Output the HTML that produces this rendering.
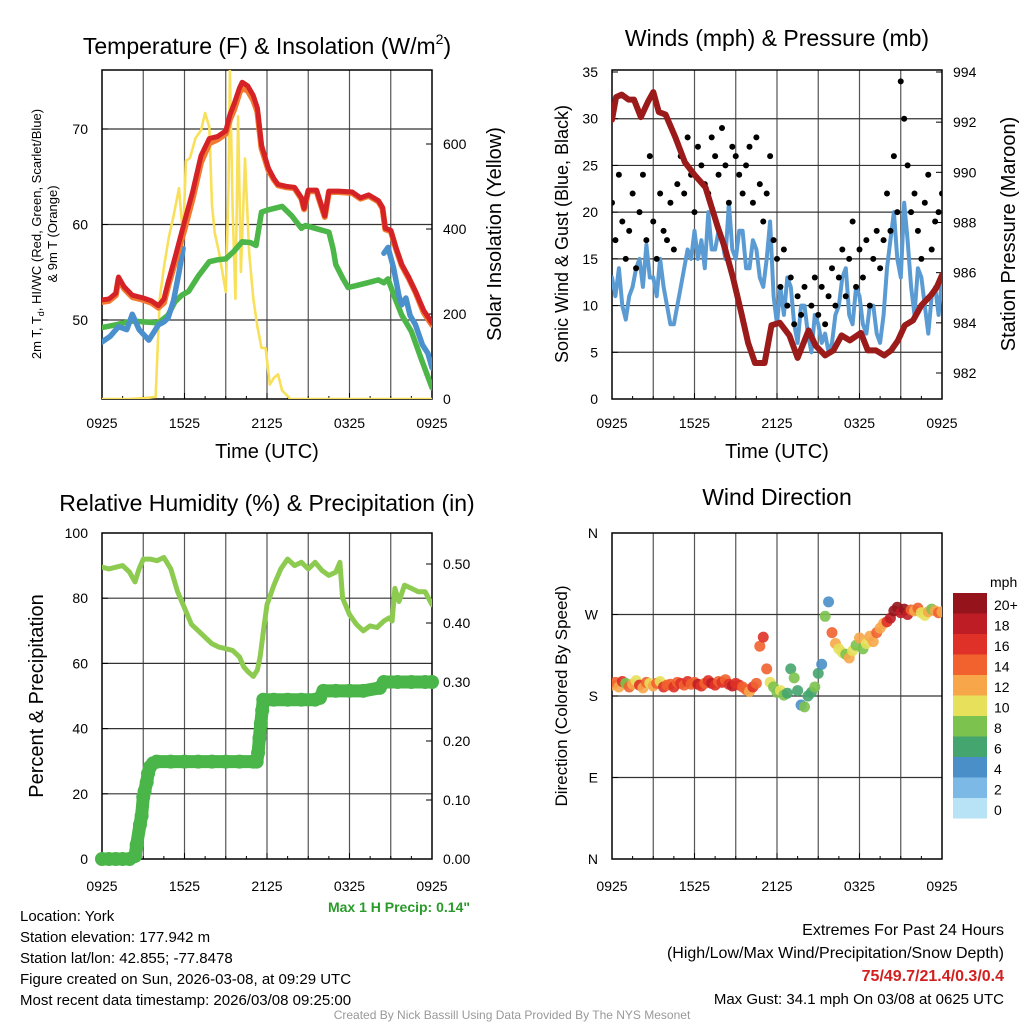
<!DOCTYPE html>
<html><head><meta charset="utf-8">
<style>
html,body{margin:0;padding:0;background:#fff;}
svg{display:block;font-family:"Liberation Sans",Arial,sans-serif;}
</style></head>
<body>
<svg id="fig" width="1024" height="1024" viewBox="0 0 1024 1024" xmlns="http://www.w3.org/2000/svg">
<rect x="0" y="0" width="1024" height="1024" fill="#fff"/>
<text x="267" y="54" font-size="23" text-anchor="middle">Temperature (F) &amp; Insolation (W/m<tspan font-size="14" dy="-10">2</tspan><tspan dy="10">)</tspan></text>
<text x="777" y="46" font-size="23" text-anchor="middle">Winds (mph) &amp; Pressure (mb)</text>
<text x="267" y="511" font-size="23" text-anchor="middle">Relative Humidity (%) &amp; Precipitation (in)</text>
<text x="777" y="505" font-size="23" text-anchor="middle">Wind Direction</text>

<text transform="translate(41,234) rotate(-90)" font-size="13" text-anchor="middle">2m T, T<tspan font-size="9" dy="3">d</tspan><tspan dy="-3">, HI/WC (Red, Green, Scarlet/Blue)</tspan></text>
<text transform="translate(57,234) rotate(-90)" font-size="13" text-anchor="middle">&amp; 9m T (Orange)</text>
<text transform="translate(501,234) rotate(-90)" font-size="20" text-anchor="middle">Solar Insolation (Yellow)</text>
<text x="267" y="458" font-size="20" text-anchor="middle">Time (UTC)</text>
<text transform="translate(568,234) rotate(-90)" font-size="18" text-anchor="middle">Sonic Wind &amp; Gust (Blue, Black)</text>
<text transform="translate(1015,234) rotate(-90)" font-size="20" text-anchor="middle">Station Pressure (Maroon)</text>
<text x="777" y="458" font-size="20" text-anchor="middle">Time (UTC)</text>
<text transform="translate(43,696) rotate(-90)" font-size="20" text-anchor="middle">Percent &amp; Precipitation</text>
<text transform="translate(567,696) rotate(-90)" font-size="17" text-anchor="middle">Direction (Colored By Speed)</text>
<text x="470" y="912" font-size="14" font-weight="bold" fill="#2a9a2a" text-anchor="end">Max 1 H Precip: 0.14"</text>

<g font-size="15">
<text x="20" y="921">Location: York</text>
<text x="20" y="942">Station elevation: 177.942 m</text>
<text x="20" y="963">Station lat/lon: 42.855; -77.8478</text>
<text x="20" y="984">Figure created on Sun, 2026-03-08, at 09:29 UTC</text>
<text x="20" y="1005">Most recent data timestamp: 2026/03/08 09:25:00</text>
</g>
<g font-size="16" text-anchor="end">
<text x="1004" y="935">Extremes For Past 24 Hours</text>
<text x="1004" y="958">(High/Low/Max Wind/Precipitation/Snow Depth)</text>
<text x="1004" y="981" font-weight="bold" fill="#d22020">75/49.7/21.4/0.3/0.4</text>
<text x="1004" y="1004" font-size="15">Max Gust: 34.1 mph On 03/08 at 0625 UTC</text>
</g>
<text x="512" y="1019" font-size="12" fill="#999" text-anchor="middle">Created By Nick Bassill Using Data Provided By The NYS Mesonet</text>
<g id="layer"></g>
</svg>
<script>
// ---- Temperature panel data ----
const redHours=[0,0.5,1,1.2,1.6,2.2,3,3.6,4.1,4.5,4.8,5.3,6,6.6,7.2,7.8,8.4,9,9.3,9.6,10,10.2,10.6,11,11.3,11.6,12.1,12.5,12.8,13.4,14,14.5,14.7,15,15.6,16.2,16.5,17.2,18.2,18.8,19.4,20.1,20.4,20.6,21,21.4,21.8,22.3,22.8,23.4,24];
const redTemps=[52.1,52.2,52.8,54.5,53.5,52.6,52.3,52.0,51.5,52.2,53.9,56.5,60.3,63.5,67.2,69.0,69.2,69.8,71.5,72.6,74.3,74.9,74.5,73.5,72.2,68.3,65.9,64.8,64.2,64.0,63.9,62.8,61.7,63.6,63.6,60.9,63.5,63.5,63.4,62.8,63.1,62.5,61.8,59.6,59.4,57.5,55.8,54.5,53.0,51.0,49.7];
const orangeTemps=[51.9,52.0,52.6,54.3,53.3,52.4,52.1,51.8,51.3,51.8,53.5,56.0,59.5,62.8,66.5,68.5,68.9,69.5,71.0,72.0,73.8,74.3,74.0,73.0,71.8,68.0,65.7,64.7,64.1,63.9,63.8,62.7,61.6,63.5,63.5,60.8,63.4,63.4,63.3,62.7,63.0,62.4,61.7,59.5,59.3,57.4,55.7,54.4,52.9,50.8,49.5];
const greenHours=[0,1,2.2,3,4.1,4.8,5.3,5.8,6.3,7,7.8,8.4,9,9.6,10.2,10.8,11.2,11.6,12,13.1,13.8,14.5,14.8,15.5,16.5,16.8,17,17.5,17.9,18.5,19.3,20.1,20.5,20.8,21.3,21.8,22.5,23.2,24];
const greenTemps=[49.2,49.5,49.9,49.8,49.7,50.5,51.9,52.6,53.0,54.6,56.1,56.3,56.4,57.2,58.2,58.1,57.8,61.3,61.5,61.9,60.9,59.6,59.9,59.6,59.2,57.5,55.8,54.4,53.4,53.6,53.9,54.2,53.9,54.3,52.3,50.5,48.8,46.0,42.9];
const blueHours=[0,0.6,1.2,1.8,2.2,2.7,3.4,3.8,4.1,4.5,4.8,5.2,5.6,5.9,null,20.5,20.8,21.2,21.6,21.8,22.1,22.4,22.8,23.3,23.7,24];
const blueTemps=[47.7,48.3,49.3,49.0,50.6,49.0,47.9,48.8,49.5,49.8,50.2,52.0,55.0,57.5,null,57.0,57.6,55.5,52.5,51.6,52.3,50.5,49.5,47.4,46.5,45.0];
const solarHours=[0,2,3.4,3.9,4.2,4.5,4.85,5.2,5.6,5.9,6.1,6.4,6.8,7.2,7.5,7.8,8.0,8.2,8.5,9.0,9.2,9.3,9.5,9.7,9.9,10.1,10.4,10.7,11.0,11.3,11.6,11.9,12.2,12.5,12.8,13.1,13.7,24];
const solarVals=[0,0,3,5,238,310,379,430,496,379,560,567,614,632,673,640,456,390,346,252,500,774,450,236,665,299,566,346,236,170,120,120,34,50,58,20,0,0];
// ---- Wind panel data ----
const pressHours=[0,0.3,0.7,1.2,1.6,2.1,2.6,3.0,3.4,3.9,4.6,5.3,6.0,6.8,7.7,8.2,8.8,9.4,9.9,10.4,11.1,11.6,12.2,12.9,13.5,14.3,14.8,15.5,16.1,16.7,17.3,18.1,18.6,19.2,19.8,20.3,20.8,21.3,21.9,22.5,23.2,23.6,24];
const pressVals=[992.1,993.0,993.1,992.9,992.9,992.2,992.8,993.2,992.4,992.3,991.4,990.4,989.9,989.4,987.8,987.0,985.8,984.4,983.2,982.4,982.4,983.9,984.0,983.5,982.6,983.7,983.1,982.7,982.9,983.5,983.3,983.6,982.9,982.9,982.7,982.9,983.3,983.9,984.1,984.7,985.1,985.4,985.9];
const windHours=[0,0.25,0.5,0.75,1,1.25,1.5,1.75,2,2.25,2.5,2.75,3,3.25,3.5,3.75,4,4.25,4.5,4.75,5,5.25,5.5,5.75,6,6.25,6.5,6.75,7,7.25,7.5,7.75,8,8.25,8.5,8.75,9,9.25,9.5,9.75,10,10.25,10.5,10.75,11,11.25,11.5,11.75,12,12.25,12.5,12.75,13,13.25,13.5,13.75,14,14.25,14.5,14.75,15,15.25,15.5,15.75,16,16.25,16.5,16.75,17,17.25,17.5,17.75,18,18.25,18.5,18.75,19,19.25,19.5,19.75,20,20.25,20.5,20.75,21,21.25,21.5,21.75,22,22.25,22.5,22.75,23,23.25,23.5,23.75,24];
const windVals=[13,11,14,10,8.5,11,12,14,15,12,16.5,13,13,11,15,12,10,8,8,10,12,14,16,15,18,15,17,14,20,16,16,18,17,15,21,16,15,18,18,14,14,17,16,13,12,15,19,11,8,12,9,13,12,8,6,10,10,7,5,9,8,6,7,5,6,9,10,13,14,9,8,12,11,8,7,10,10,7,6,9,14,17,20,15,13,21,17,12,9,14,13,10,7,11,12,9,13];
const gustVals=[21,17,24,19,15,18,22,14,20,24,17,26,19,15,22,18,17,21,16,23,26,22,28,24,20,27,25,23,22,28,26,24,29,25,21,27,26,24,22,25,27,21,28,23,19,22,26,17,15,12,16,10,13,8,11,9,12,7,10,13,9,12,8,11,14,10,13,16,11,15,19,12,16,13,17,10,15,18,14,17,22,18,26,20,34,30,25,20,22,18,15,21,24,16,19,20,22];
// ---- Humidity panel data ----
const rhHours=[0,0.5,1,1.5,2,2.4,2.7,3,3.5,4,4.5,5,5.5,6,6.5,7,7.5,8,8.5,9,9.5,10,10.3,10.6,11,11.3,11.5,11.8,12,12.5,13,13.5,14,14.5,15,15.5,16,16.5,17,17.3,17.5,18,18.5,19,19.5,20,20.5,20.9,21.1,21.3,21.6,22,22.5,23,23.5,24];
const rhVals=[89.5,89,89.5,90,88,85,89,92,92,91.5,92.5,89,82,77,72,70,68,66,65,64.5,64,62,59,57.5,56,58,62,72,78,84,89,92,90,91,89,91,88.5,87,88,91,80,75,72,70,71.5,71,73,74,73,83,79,84,83,82,82,78];
const precipHours=[0,0.5,1,1.5,2,2.4,2.52,2.76,2.88,3.0,3.1,3.25,3.35,3.49,3.7,3.98,5,6,7,8,9,10,11,11.25,11.35,11.45,11.55,11.65,11.73,12.5,13.5,14.5,15.5,15.85,16.1,17,18,19,20.2,20.5,21.5,22.5,23.5,24];
const precipVals=[0,0,0,0,0,0.005,0.024,0.058,0.073,0.105,0.115,0.13,0.145,0.156,0.162,0.165,0.165,0.165,0.165,0.165,0.165,0.165,0.165,0.165,0.18,0.205,0.23,0.252,0.27,0.27,0.27,0.27,0.27,0.273,0.285,0.285,0.285,0.285,0.29,0.30,0.30,0.30,0.30,0.30];
// ---- Wind direction data (15-min) and colouring speed ----
const dirVals=[192,195,190,196,194,190,193,197,192,189,195,194,191,194,196,190,192,193,190,195,194,192,196,193,195,193,191,194,197,194,192,196,195,198,193,191,194,192,190,187,185,190,194,235,245,210,195,190,184,186,181,183,210,200,186,170,168,180,184,190,205,215,268,284,250,238,232,228,226,222,230,236,244,232,238,246,240,250,255,260,262,266,274,278,272,276,270,275,274,277,272,269,273,276,274,272,273];
const dirSpeeds=[13,15,12,16,8,14,13,11,17,12,14,10,13,15,11,16,14,15,16,14,16,15,17,14,15,18,16,15,17,19,16,15,16,15,17,18,17,16,14,15,13,16,15,14,16,15,10,9,8,10,9,7,6,8,7,4,8,7,6,8,7,5,8,4,14,12,10,11,9,12,10,8,12,9,11,13,12,14,13,12,16,18,20,21,19,21,18,14,12,15,11,10,13,8,12,14,13];
const tickLabels=["0925","1525","2125","0325","0925"];
const tempTicks=[50,60,70];
const solarTicks=[0,200,400,600];
const windTicks=[0,5,10,15,20,25,30,35];
const pressTicks=[982,984,986,988,990,992,994];
const rhTicks=[0,20,40,60,80,100];
const precipTicks=[0,0.1,0.2,0.3,0.4,0.5];
const dirTicks=[0,90,180,270,360];
const dirLabels=["N","E","S","W","N"];
const cbarLabels=["0","2","4","6","8","10","12","14","16","18","20+"];
const cbarColors=["#b8e2f6","#7db9e6","#4a8fc8","#45a56e","#7cc24e","#e6e05a","#f7a74a","#f1622e","#df3127","#bf1d26","#95141c"];

const NS="http://www.w3.org/2000/svg";
const layer=document.getElementById('layer');
function el(tag,attrs,parent){const e=document.createElementNS(NS,tag);for(const k in attrs)e.setAttribute(k,attrs[k]);(parent||layer).appendChild(e);return e;}
function lin(d0,d1,r0,r1){return v=>r0+(v-d0)*(r1-r0)/(d1-d0);}

function panel(name,L,R,T,B,xs,ylTicks,ylMap,ylLabels,yrTicks,yrMap,yrLabels,hGridVals,hGridMap,xOff){
  const g=el('g',{});
  
  
  for(let h=3;h<24;h+=3){const x=xs(h);el('line',{x1:x,x2:x,y1:T,y2:B,stroke:'#555','stroke-width':1.2},g);}
  hGridVals.forEach(v=>{const y=hGridMap(v);el('line',{x1:L,x2:R,y1:y,y2:y,stroke:'#333','stroke-width':1.2},g);});
  el('rect',{x:L,y:T,width:R-L,height:B-T,fill:'none',stroke:'#000','stroke-width':1.5},g);
  for(let h=0;h<=24;h+=1.5){const x=xs(h);el('line',{x1:x,x2:x,y1:B,y2:B-(h%6===0?6:3),stroke:'#000'},g);}
  tickLabels.forEach((t,i)=>{const tx=el('text',{x:xs(i*6),y:B+xOff,'font-size':14,'text-anchor':'middle'},g);tx.textContent=t;
    
    });
  ylTicks.forEach((v,i)=>{const y=ylMap(v);el('line',{x1:L,x2:L+6,y1:y,y2:y,stroke:'#000'},g);
    const tx=el('text',{x:L-14,y:y+5,'font-size':14,'text-anchor':'end'},g);tx.textContent=ylLabels[i];
    
    });
  if(yrTicks){yrTicks.forEach((v,i)=>{const y=yrMap(v);el('line',{x1:R,x2:R-6,y1:y,y2:y,stroke:'#000'},g);
    const tx=el('text',{x:R+11,y:y+5,'font-size':14,'text-anchor':'start'},g);tx.textContent=yrLabels[i];
    
    });}
  return g;
}
function path(hours,vals,xs,ys,stroke,w,name){
  let d='',pen=false;
  hours.forEach((h,i)=>{if(h===null||vals[i]===null){pen=false;return;}d+=(pen?'L':'M')+xs(h).toFixed(1)+' '+ys(vals[i]).toFixed(1);pen=true;});
  const p=el('path',{d:d,fill:'none',stroke:stroke,'stroke-width':w,'stroke-linejoin':'round','stroke-linecap':'round'});
  
  
  return p;
}
const defs=el('defs',{});
[['c1',102,70,330,329],['c2',612,70,330,329],['c3',102,533,330,326],['c4',612,533,330,326]].forEach(c=>{const cp=el('clipPath',{id:c[0]},defs);el('rect',{x:c[1],y:c[2],width:c[3],height:c[4]},cp);});

// Panel 1
const x1=lin(0,24,102,432), tY=lin(50,70,320,129), sY=lin(0,600,399,144);
panel('temperature',102,432,70,399,x1,tempTicks,tY,tempTicks.map(String),solarTicks,sY,solarTicks.map(String),tempTicks,tY,29);
const g1=el('g',{'clip-path':'url(#c1)'});
g1.appendChild(path(solarHours,solarVals,x1,sY,'#f9e05a',2.6,'solar-insolation-line'));
g1.appendChild(path(greenHours,greenTemps,x1,tY,'#4cb648',5.5,'dewpoint-line'));
g1.appendChild(path(blueHours,blueTemps,x1,tY,'#4a90cc',5.5,'wind-chill-line'));
g1.appendChild(path(redHours,orangeTemps,x1,tY,'#f27a30',6,'9m-temperature-line'));
g1.appendChild(path(redHours,redTemps,x1,tY,'#d42226',5,'2m-temperature-line'));

// Panel 2
const x2=lin(0,24,612,942), wY=lin(0,35,399,72), pY=lin(982,994,373,72);
panel('winds',612,942,70,399,x2,windTicks,wY,windTicks.map(String),pressTicks,pY,pressTicks.map(String),windTicks.slice(1,7),wY,29);
const g2=el('g',{'clip-path':'url(#c2)'});
g2.appendChild(path(windHours,windVals,x2,wY,'#5b9bd3',4,'sonic-wind-line'));
gustVals.forEach((v,i)=>{const c=el('circle',{cx:x2(windHours[i]),cy:wY(v),r:3,fill:'#000'},g2);
  
  });
g2.appendChild(path(pressHours,pressVals,x2,pY,'#9b1a1a',6,'pressure-line'));

// Panel 3
const x3=lin(0,24,102,432), rY=lin(0,100,859,533), qY=lin(0,0.5,859,564);
panel('humidity',102,432,533,859,x3,rhTicks,rY,rhTicks.map(String),precipTicks,qY,precipTicks.map(v=>v.toFixed(2)),[20,40,60,80],rY,32);
const g3=el('g',{'clip-path':'url(#c3)'});
g3.appendChild(path(rhHours,rhVals,x3,rY,'#8ccb50',5,'relative-humidity-line'));
const gp=el('g',{});
gp.appendChild(path(precipHours,precipVals,x3,qY,'#4ab548',13,'precipitation-line'));
precipHours.forEach((h,i)=>{const c=el('circle',{cx:x3(h),cy:qY(precipVals[i]),r:7,fill:'#4ab548'},gp);
  
  });

// Panel 4
const x4=lin(0,24,612,942), dY=lin(0,360,859,533);
panel('direction',612,942,533,859,x4,dirTicks,dY,dirLabels,null,null,null,[90,180,270],dY,32);
const g4=el('g',{'clip-path':'url(#c4)'});
function speedColor(s){const k=Math.min(10,Math.max(0,Math.floor(s/2)));return cbarColors[k];}
dirVals.forEach((v,i)=>{const c=el('circle',{cx:x4(windHours[i]),cy:dY(v),r:5.5,fill:speedColor(dirSpeeds[i]),'fill-opacity':0.9},g4);
  
  });
const cb=el('g',{});


const cbTop=593,cbH=20.5;
cbarColors.forEach((c,i)=>{const y=cbTop+(10-i)*cbH;el('rect',{x:953,y:y,width:34,height:cbH,fill:c},cb);
  const t=el('text',{x:994,y:y+17,'font-size':14},cb);t.textContent=cbarLabels[i];});
const mt=el('text',{x:990,y:587,'font-size':14},cb);mt.textContent='mph';
</script>
</body></html>
